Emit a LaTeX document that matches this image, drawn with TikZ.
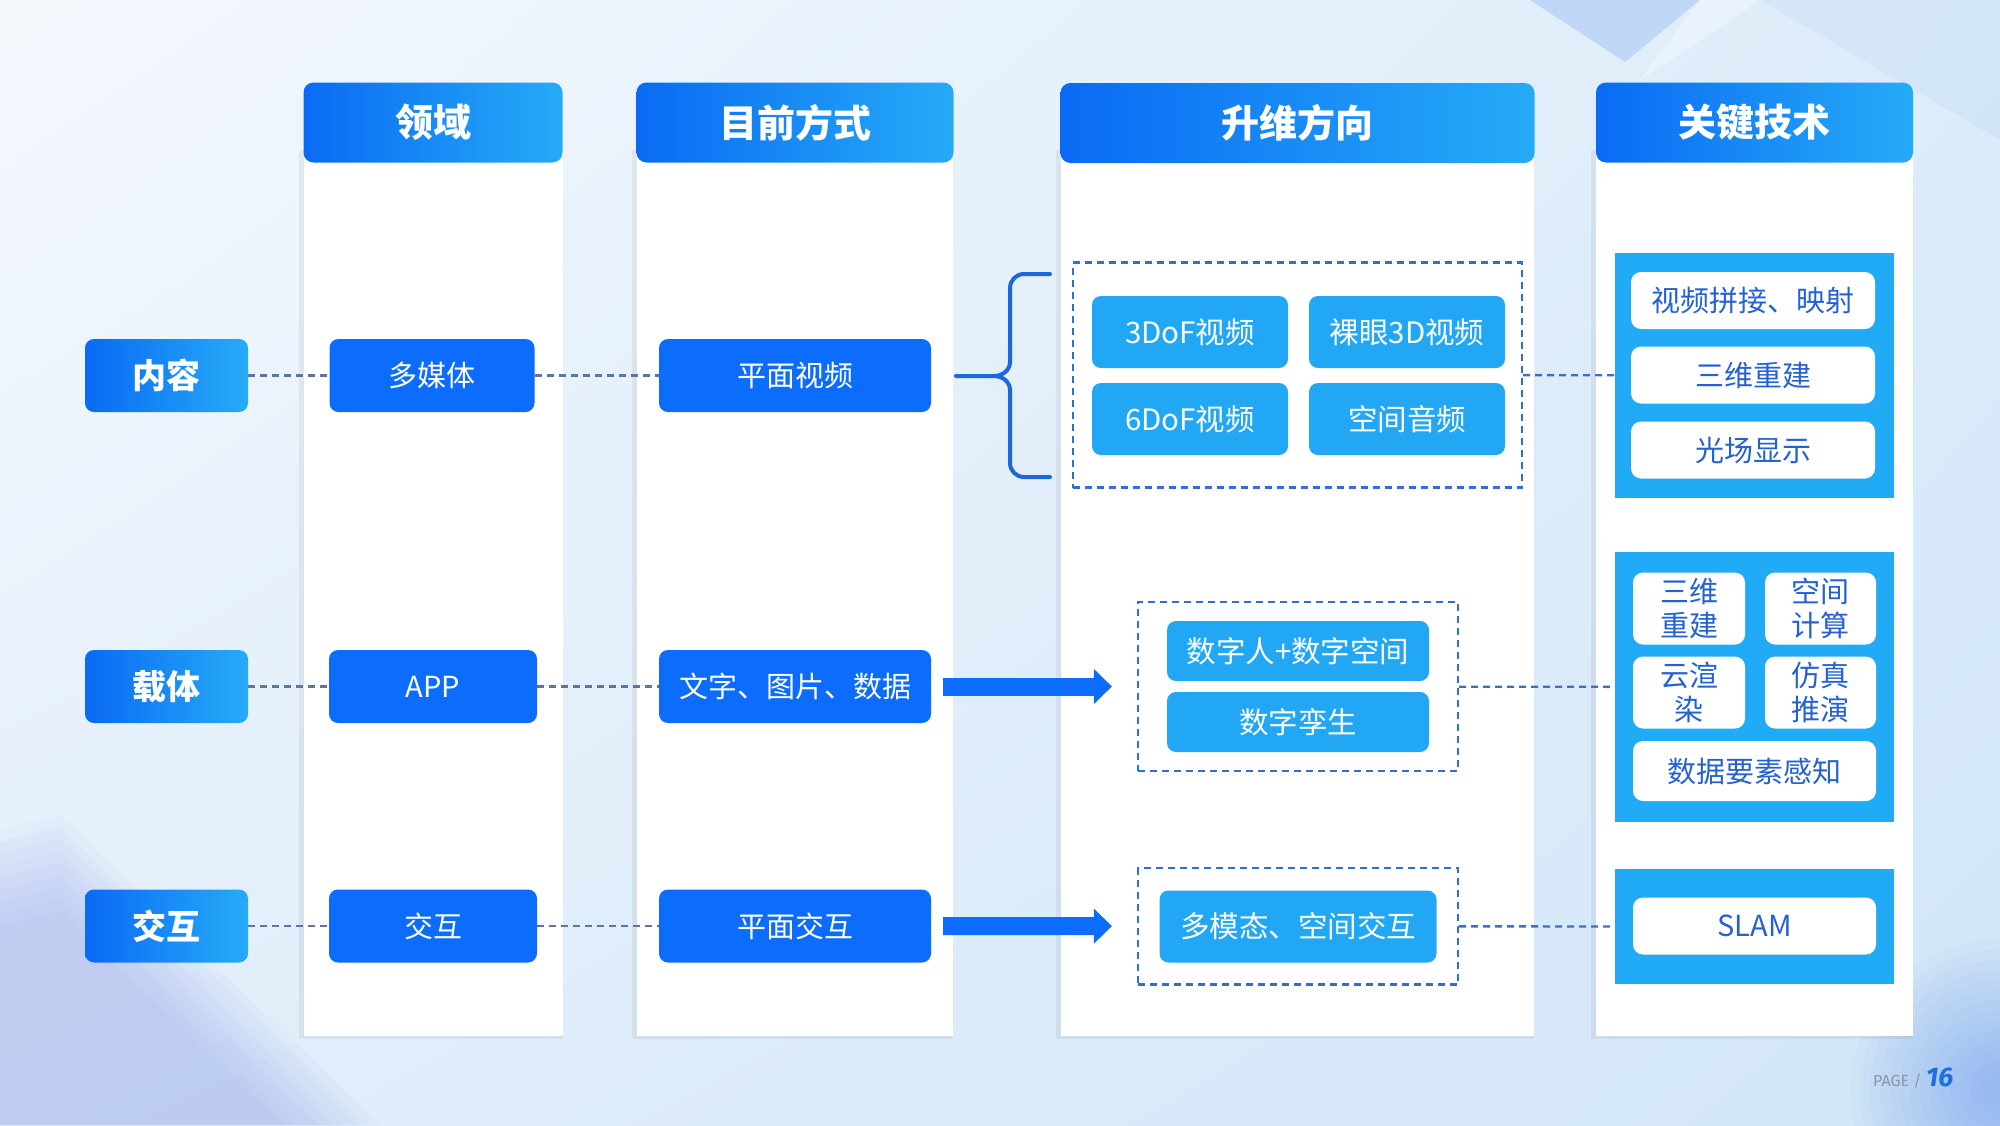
\documentclass[tikz,border=0pt]{standalone}
\usepackage{fontspec}
\setmainfont{Noto Sans CJK SC}
\newfontfamily\pagefont{Fira Sans}
\usetikzlibrary{arrows.meta,shadings}

\definecolor{deep}{HTML}{0C6CFB}
\definecolor{headl}{HTML}{0A6AF4}
\definecolor{headr}{HTML}{26ABF7}
\definecolor{light}{HTML}{22A7F5}
\definecolor{panelc}{HTML}{21ABF6}
\definecolor{pilltext}{HTML}{2461D2}
\definecolor{linkgrey}{HTML}{5A76A3}
\definecolor{linkblue}{HTML}{3F6FC2}
\definecolor{boxline}{HTML}{2F6FD2}
\definecolor{bracec}{HTML}{1B68DE}
\definecolor{pagegrey}{HTML}{8C97A8}
\definecolor{pageblue}{HTML}{1E6FE2}
\definecolor{bgA}{HTML}{F4F8FD}
\definecolor{bgB}{HTML}{DCECF9}
\definecolor{bgC}{HTML}{E2EEFA}
\definecolor{bgD}{HTML}{D2E6F8}
\definecolor{decoblue}{HTML}{4F86F2}
\definecolor{decoviolet}{HTML}{8C9CF0}

\begin{document}
\begin{tikzpicture}[x=1pt,y=-1pt]
    \tikzstyle{header}=[rounded corners=10pt, left color=headl, right color=headr,
        text=white, inner sep=0pt, minimum height=80pt,
        font=\fontsize{38}{40}\selectfont\bfseries]
    \tikzstyle{rowlab}=[rounded corners=9pt, left color=headl, right color=headr,
        text=white, inner sep=0pt, minimum width=163pt, minimum height=73pt,
        font=\fontsize{34}{36}\selectfont\bfseries]
    \tikzstyle{curbox}=[rounded corners=9pt, fill=deep, text=white, inner sep=0pt,
        minimum height=73pt, font=\fontsize{29}{31}\selectfont]
    \tikzstyle{upbox}=[rounded corners=9pt, fill=light, text=white, inner sep=0pt,
        minimum width=196pt, minimum height=72pt, font=\fontsize{29.5}{32}\selectfont]
    \tikzstyle{dbox}=[draw=boxline, line width=2.2pt, dash pattern=on 7pt off 5pt,
        inner sep=0pt]
    \tikzstyle{panel}=[fill=panelc, inner sep=0pt, minimum width=279pt]
    \tikzstyle{pill}=[rounded corners=10pt, fill=white, text=pilltext, inner sep=0pt,
        align=center, font=\fontsize{29}{34}\selectfont]
    \tikzstyle{link}=[line width=2.3pt, dash pattern=on 7pt off 5pt]
    \tikzstyle{fatarrow}=[draw=deep, line width=18pt,
        -{Triangle[width=34pt,length=18pt]}]
    \tikzstyle{curly}=[draw=bracec, line width=4pt, line cap=round]
    \tikzstyle{column}=[fill=white]

    % background
    \useasboundingbox (0,0) rectangle (2000,1125);
    \shade[upper left=bgA, upper right=bgB, lower left=bgC, lower right=bgD]
        (0,0) rectangle (2000,1125);
    \fill[decoblue, opacity=.22] (1530,0) -- (1700,0) -- (1625,62) -- cycle;
    \fill[white, opacity=.35] (1700,0) -- (1760,0) -- (1640,80) -- cycle;
    \fill[decoblue, opacity=.06] (1760,0) -- (2000,0) -- (2000,140) -- cycle;
    \foreach \r in {20,30,...,150}
        \fill[decoblue, opacity=.035] (2000,1090) circle (\r);
    \foreach \d in {0,12,...,96}
        \fill[decoviolet, opacity=.05] (0,830+\d) -- (60,815+\d) -- (380-\d,1125) -- (0,1125) -- cycle;

    % columns
    \foreach \xa/\xb in {303.6/562.5, 636.5/953.4, 1060.6/1534.4, 1596/1913} {
        \fill[black, opacity=.05] (\xa-5,150) rectangle (\xb,1039);
        \fill[column] (\xa,150) rectangle (\xb,1036);
    }
    \node[header, minimum width=259pt] (h1) at (433,122.5) {领域};
    \node[header, minimum width=317pt] (h2) at (795,122.5) {目前方式};
    \node[header, minimum width=474pt] (h3) at (1297.5,123) {升维方向};
    \node[header, minimum width=317pt] (h4) at (1754.5,122.5) {关键技术};

    % rows
    \node[rowlab] (lab1) at (166.5,375.5) {内容};
    \node[rowlab] (lab2) at (166.5,686.5) {载体};
    \node[rowlab] (lab3) at (166.5,926) {交互};

    \node[curbox, minimum width=205pt] (a1) at (432,375.5) {多媒体};
    \node[curbox, minimum width=208pt] (a2) at (433,686.5) {APP};
    \node[curbox, minimum width=208pt] (a3) at (433,926) {交互};

    \node[curbox, minimum width=272pt] (b1) at (795,375.5) {平面视频};
    \node[curbox, minimum width=272pt] (b2) at (795,686.5) {文字、图片、数据};
    \node[curbox, minimum width=272pt] (b3) at (795,926) {平面交互};

    % upgrade directions
    \node[dbox, minimum width=449pt, minimum height=225pt] (d1) at (1297.5,375) {};
    \node[upbox] (u1) at (1190,332) {3DoF视频};
    \node[upbox] (u2) at (1407,332) {裸眼3D视频};
    \node[upbox] (u3) at (1190,419) {6DoF视频};
    \node[upbox] (u4) at (1407,419) {空间音频};

    \node[dbox, minimum width=320pt, minimum height=169pt] (d2) at (1298,686.5) {};
    \node[upbox, minimum width=262pt, minimum height=60pt] (u5) at (1298,651) {数字人+数字空间};
    \node[upbox, minimum width=262pt, minimum height=60pt] (u6) at (1298,722) {数字孪生};

    \node[dbox, minimum width=320pt, minimum height=116.5pt] (d3) at (1298,926.25) {};
    \node[upbox, minimum width=277pt] (u7) at (1298,926.5) {多模态、空间交互};

    % key technologies
    \node[panel, minimum height=244.5pt] (p1) at (1754.5,375.25) {};
    \node[pill, minimum width=244pt, minimum height=57pt] (k1) at (1753,300.5) {视频拼接、映射};
    \node[pill, minimum width=244pt, minimum height=57pt] (k2) at (1753,375) {三维重建};
    \node[pill, minimum width=244pt, minimum height=57pt] (k3) at (1753,450) {光场显示};

    \node[panel, minimum height=270pt] (p2) at (1754.5,687) {};
    \node[pill, minimum width=112pt, minimum height=72pt] (k4) at (1689,608.5) {三维\\重建};
    \node[pill, minimum width=111pt, minimum height=72pt] (k5) at (1820.5,608.5) {空间\\计算};
    \node[pill, minimum width=112pt, minimum height=72pt] (k6) at (1689,692.5) {云渲\\染};
    \node[pill, minimum width=111pt, minimum height=72pt] (k7) at (1820.5,692.5) {仿真\\推演};
    \node[pill, minimum width=243pt, minimum height=60pt] (k8) at (1754.5,771) {数据要素感知};

    \node[panel, minimum height=115pt] (p3) at (1754.5,926.5) {};
    \node[pill, minimum width=243pt, minimum height=57pt] (k9) at (1754.5,926) {SLAM};

    % connectors
    \foreach \i in {1,2,3} {
        \draw[link, draw=linkgrey] (lab\i) -- (a\i);
        \draw[link, draw=linkgrey] (a\i) -- (b\i);
        \draw[link, draw=linkblue] (d\i) -- (p\i);
    }
    \draw[fatarrow, shorten <=12pt, shorten >=25pt] (b2) -- (d2);
    \draw[fatarrow, shorten <=12pt, shorten >=25pt] (b3) -- (d3);

    % brace
    \coordinate (tip) at (956,376);
    \draw[curly] (1050,274) -- (1024,274) to[out=180,in=90] (1010,288)
        -- (1010,362) to[out=-90,in=0] (994,376) -- (tip);
    \draw[curly] (1050,477) -- (1024,477) to[out=180,in=-90] (1010,463)
        -- (1010,390) to[out=90,in=0] (994,376);

    % page number
    \node[anchor=base west, inner sep=0pt, text=pagegrey,
        font=\pagefont\fontsize{16}{16}\selectfont] (pg) at (1873,1086) {PAGE /};
    \node[anchor=base west, inner sep=0pt, text=pageblue,
        font=\pagefont\bfseries\itshape\fontsize{27}{27}\selectfont] (pgnum)
        at ([xshift=4pt]pg.base east) {16};

\end{tikzpicture}
\end{document}
